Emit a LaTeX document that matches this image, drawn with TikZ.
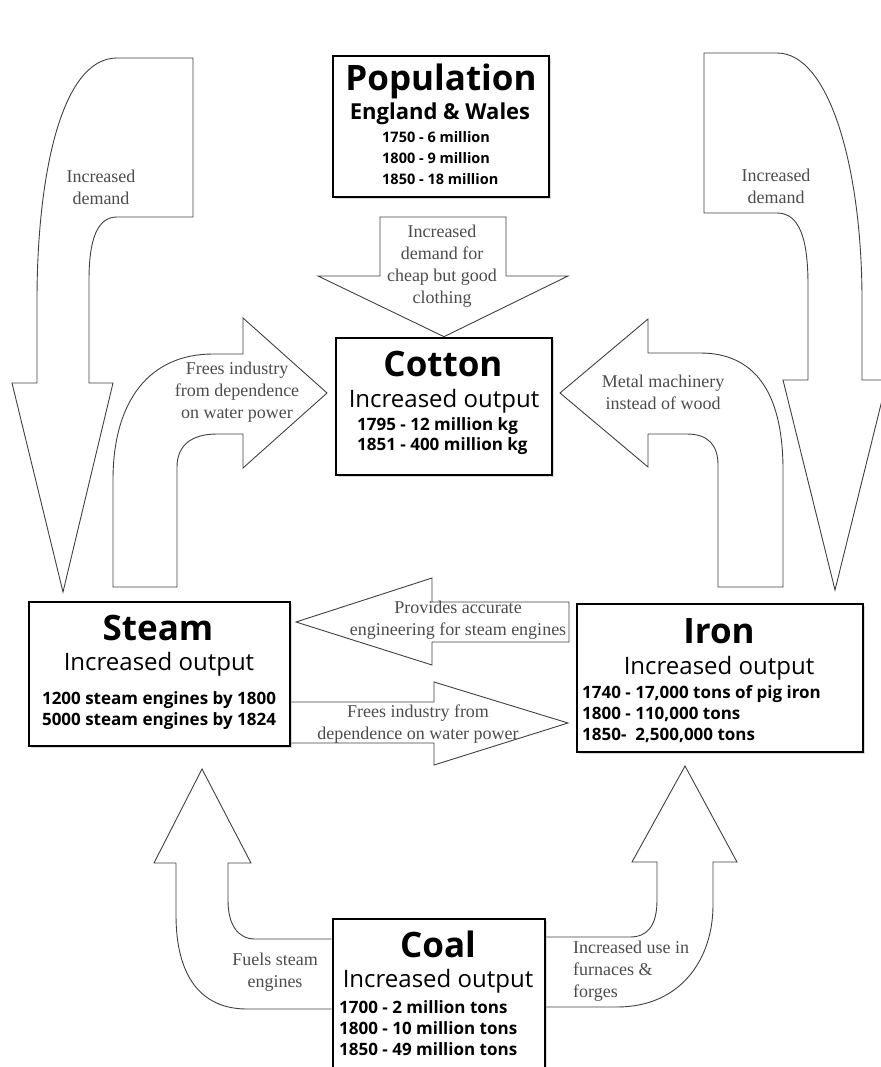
\documentclass[tikz,border=0pt]{standalone}
\usepackage{fontspec}
\setmainfont{Open Sans}
\newfontfamily\notefont{Liberation Serif}
\usetikzlibrary{shadows}

\begin{document}
\begin{tikzpicture}[
    x=1pt, y=-1pt,
    box/.style={rectangle, draw, line width=2.6pt, fill=white, inner sep=0pt, drop shadow={shadow xshift=2pt, shadow yshift=-2pt, opacity=0.3}},
    ttl/.style={font=\fontsize{35}{38}\selectfont\bfseries, inner sep=0pt},
    sub/.style={font=\fontsize{24}{26}\selectfont, inner sep=0pt},
    dat/.style={font=\fontsize{17}{21}\selectfont\bfseries, align=left, inner sep=0pt},
    fat/.style={draw=black!75, line width=0.9pt, line join=miter},
    note/.style={font=\notefont\fontsize{18}{22}\selectfont, text=black!70, align=center, inner sep=0pt}
]
\useasboundingbox (0,0) rectangle (880,1067);

\node (pop) [box, minimum width=216, minimum height=141] at (441,126.5) {};
\node (cotton) [box, minimum width=216, minimum height=137] at (444,406.5) {};
\node (steam) [box, minimum width=261, minimum height=144] at (159.5,674) {};
\node (iron) [box, minimum width=286, minimum height=148] at (720,678) {};
\node (coal) [box, minimum width=212, minimum height=161] at (439,999.5) {};

\node (popttl) [ttl] at (441,81) {Population};
\node (popsub) [font=\fontsize{22}{24}\selectfont\bfseries, inner sep=0pt] at (440,114) {England \& Wales};
\node (popdat) [dat, font=\fontsize{14.5}{21}\selectfont\bfseries, anchor=west] at (382,158) {1750 - 6 million\\1800 - 9 million\\1850 - 18 million};

\node (cotttl) [ttl] at (443,364) {Cotton};
\node (cotsub) [sub] at (444,401) {Increased output};
\node (cotdat) [dat, font=\fontsize{17}{20}\selectfont\bfseries, anchor=west] at (357,436) {1795 - 12 million kg\\1851 - 400 million kg};

\node (stmttl) [ttl] at (158,628) {Steam};
\node (stmsub) [sub] at (159,664) {Increased output};
\node (stmdat) [dat, align=center] at (159,711) {1200 steam engines by 1800\\5000 steam engines by 1824};

\node (irnttl) [ttl] at (719,631) {Iron};
\node (irnsub) [sub] at (719,668) {Increased output};
\node (irndat) [dat, anchor=west] at (582,714) {1740 - 17,000 tons of pig iron\\1800 - 110,000 tons\\1850-\ \ 2,500,000 tons};

\node (coalttl) [ttl] at (438,944) {Coal};
\node (coalsub) [sub] at (438,981) {Increased output};
\node (coaldat) [dat, anchor=west] at (339,1028) {1700 - 2 million tons\\1800 - 10 million tons\\1850 - 49 million tons};

% Block arrows
\draw[fat] (193,58) -- (193,217) -- (117,217) .. controls (97,217) and (89,240) .. (89,280) -- (89,383) -- (113,383) -- (63,592) -- (12,383) -- (37,383) -- (37,300) .. controls (37,180) and (60,58) .. (117,58) -- cycle;
\draw[fat] (704,53) -- (777,53) .. controls (830,53) and (862,170) .. (862,300) -- (862,380) -- (887,380) -- (835,590) -- (783,380) -- (808,380) -- (808,285) .. controls (808,240) and (800,213) .. (777,213) -- (704,213) -- cycle;
\draw[fat] (380,217) -- (506,217) -- (506,276) -- (568,276) -- (cotton.north) -- (318,276) -- (380,276) -- cycle;
\draw[fat] (113,587) -- (113,480) .. controls (113,400) and (150,354) .. (213,354) -- (243,354) -- (243,318) -- (327,393) -- (243,468) -- (243,434) -- (217,434) .. controls (192,434) and (177,445) .. (177,467) -- (177,587) -- cycle;
\draw[fat] (783,587) -- (783,470) .. controls (783,400) and (760,353) .. (700,353) -- (648,353) -- (648,319) -- (560,393) -- (648,467) -- (648,434) -- (687,434) .. controls (708,434) and (718,445) .. (718,465) -- (718,587) -- cycle;
\draw[fat] (569,602) -- (432,602) -- (432,578) -- (296,622) -- (432,665) -- (432,642) -- (569,642) -- cycle;
\draw[fat] (steam.east |- 0,702) -- (434,702) -- (434,682) -- (568,723) -- (434,765) -- (434,743) -- (steam.east |- 0,743);
\draw[fat] (coal.west |- 0,939) -- (255,939) .. controls (238,939) and (228,925) .. (228,900) -- (228,863) -- (251,863) -- (202,769) -- (154,863) -- (176,863) -- (176,915) .. controls (176,975) and (200,1009) .. (247,1009) -- (coal.west |- 0,1009);
\draw[fat] (coal.east |- 0,937) -- (630,937) .. controls (648,937) and (657,925) .. (657,900) -- (657,862) -- (632,862) -- (685,766) -- (737,862) -- (713,862) -- (713,905) .. controls (713,960) and (680,1007) .. (617,1007) -- (coal.east |- 0,1007);

% Arrow labels
\node (demL) [note] at (101,187) {Increased\\demand};
\node (demR) [note] at (776,186) {Increased\\demand};
\node (cloth) [note] at (442,266) {Increased\\demand for\\cheap but good\\clothing};
\node (watL) [note] at (237,392) {Frees industry\\from dependence\\on water power};
\node (metal) [note] at (663,392) {Metal machinery\\instead of wood};
\node (prov) [note] at (458,620) {Provides accurate\\engineering for steam engines};
\node (free) [note] at (418,724) {Frees industry from\\dependence on water power};
\node (fuel) [note] at (275,972) {Fuels steam\\engines};
\node (furn) [note, align=left, anchor=west] at (573,971) {Increased use in\\furnaces \&\\forges};

\end{tikzpicture}
\end{document}
